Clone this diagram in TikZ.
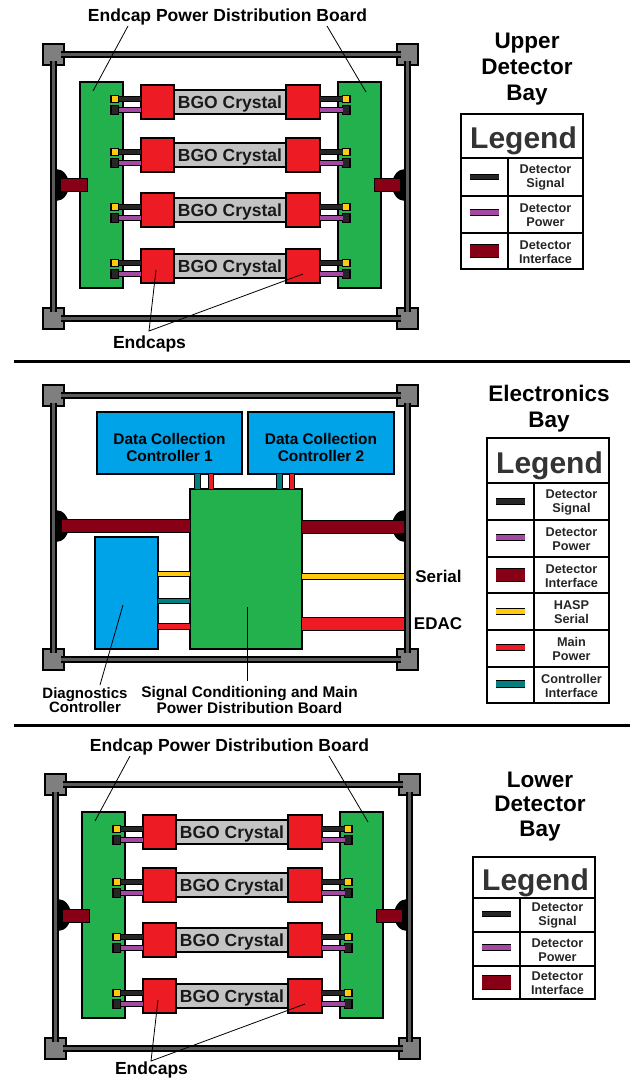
\documentclass[tikz,border=0pt]{standalone}
\usepackage{fontspec}
\setmainfont{Liberation Sans}
\usetikzlibrary{fit}
\definecolor{cgreen}{HTML}{22B14C}
\definecolor{cred}{HTML}{ED1C24}
\definecolor{cblue}{HTML}{00A2E8}
\definecolor{cyel}{HTML}{FFC90E}
\definecolor{cpur}{HTML}{A349A4}
\definecolor{cdark}{HTML}{880015}
\definecolor{cteal}{HTML}{008080}
\definecolor{csig}{HTML}{262626}
\definecolor{cbgo}{HTML}{C3C3C3}
\definecolor{cpost}{HTML}{7F7F7F}
\definecolor{cbar}{HTML}{5A5A5A}
\definecolor{cleg}{HTML}{333333}
\tikzset{
  blk/.style={draw=black,line width=1.3pt,inner sep=0pt,outer sep=0pt},
  board/.style={blk,fill=cgreen},
  endcap/.style={blk,fill=cred},
  crystal/.style={blk,fill=cbgo},
  ctrl/.style={blk,fill=cblue},
  iface/.style={blk,line width=1pt,fill=cdark},
  post/.style={blk,line width=1.5pt,fill=cpost},
  pinY/.style={blk,fill=cyel},
  pinK/.style={blk,fill=csig},
  cell/.style={draw=black,line width=1.1pt,inner sep=0pt,outer sep=0pt,fill=white},
  wire/.style={line width=1pt,double distance=#1,line cap=butt},
  sigw/.style={wire=4.5pt,double=csig},
  powr/.style={wire=3.8pt,double=cpur},
  bar/.style={line width=2pt,double=cbar,double distance=2.8pt},
  leader/.style={draw=black,line width=0.8pt},
  bigt/.style={font=\bfseries\fontsize{22.5}{26}\selectfont,align=center,inner sep=0pt},
  lab/.style={font=\bfseries\fontsize{17.5}{19}\selectfont,align=center,inner sep=0pt},
  dcc/.style={font=\bfseries\fontsize{15.4}{16.5}\selectfont,align=center,inner sep=0pt},
  legt/.style={font=\bfseries\fontsize{30}{32}\selectfont,text=cleg,inner sep=0pt,xshift=1.5pt,yshift=-5pt},
  legl/.style={font=\bfseries\fontsize{12.7}{14}\selectfont,text=black!85,align=center,inner sep=0pt,yshift=-0.7pt},
}
\def\dx{0}\def\dy{0}
\newcommand{\rbox}[6]{\node[#2,fit={({#3+\dx},{#4+\dy}) ({#5+\dx},{#6+\dy})}] (#1) {};}
\newcommand{\bumps}[1]{%
  \fill[black] ({56+\dx},{#1+\dy-16}) arc[start angle=90,end angle=-90,x radius=13pt,y radius=16pt] -- cycle;
  \fill[black] ({405+\dx},{#1+\dy-16}) arc[start angle=90,end angle=270,x radius=13pt,y radius=16pt] -- cycle;
}
\newcommand{\bayposts}[1]{%
  \rbox{#1tl}{post}{43}{44}{64}{65}
  \rbox{#1tr}{post}{397}{44}{418}{65}
  \rbox{#1bl}{post}{43}{308}{64}{329}
  \rbox{#1br}{post}{397}{308}{418}{329}
}
\newcommand{\framebars}[1]{%
  \draw[bar,shorten <=7pt,shorten >=7pt] (#1tl.center) -- (#1tr.center);
  \draw[bar,shorten <=7pt,shorten >=7pt] (#1bl.center) -- (#1br.center);
  \draw[bar,shorten <=7pt,shorten >=7pt] (#1tl.center) -- (#1bl.center);
  \draw[bar,shorten <=7pt,shorten >=7pt] (#1tr.center) -- (#1br.center);
}
\newcommand{\detbay}[3]{%
  \bumps{185}
  \bayposts{#1}
  \framebars{#1}
  \rbox{#1bdl}{board}{80}{82}{123}{288}
  \rbox{#1bdr}{board}{338}{82}{381}{288}
  \rbox{#1ifl}{iface}{60}{179}{87}{192}
  \rbox{#1ifr}{iface}{374}{179}{400}{192}
  \foreach \t [count=\i] in {85,138,193,249}{
    \rbox{#1xt\i}{crystal}{173}{\t+5}{287}{\t+29}
    \node[font=\bfseries\fontsize{17.5}{19}\selectfont,inner sep=0pt,text=black!90,yshift=-2pt] (#1xl\i) at (#1xt\i.center) {BGO Crystal};
    \rbox{#1yl\i}{pinY}{111}{\t+10.5}{118.5}{\t+17.5}
    \rbox{#1kl\i}{pinK}{111}{\t+20.5}{118.5}{\t+29.5}
    \rbox{#1yr\i}{pinY}{342.5}{\t+10.5}{350}{\t+17.5}
    \rbox{#1kr\i}{pinK}{342.5}{\t+20.5}{350}{\t+29.5}
    \rbox{#1el\i}{endcap}{141}{\t}{174}{\t+34}
    \rbox{#1er\i}{endcap}{286}{\t}{320}{\t+34}
    \draw[sigw] (#1yl\i.east) -- (#1yl\i.east -| #1el\i.west);
    \draw[powr] (#1kl\i.east) -- (#1kl\i.east -| #1el\i.west);
    \draw[sigw] (#1er\i.east |- #1yr\i.west) -- (#1yr\i.west);
    \draw[powr] (#1er\i.east |- #1kr\i.west) -- (#1kr\i.west);
  }
  \node[lab] (#1title) at ({227.5+\dx},{#2+\dy}) {Endcap Power Distribution Board};
  \node[lab] (#1caps) at ({149.5+\dx},{#3+\dy}) {Endcaps};
  \coordinate (#1la) at ({128+\dx},{26+\dy});
  \coordinate (#1lb) at ({327+\dx},{26+\dy});
  \coordinate (#1lc) at ({93+\dx},{91+\dy});
  \coordinate (#1ld) at ({366+\dx},{92+\dy});
  \coordinate (#1ap) at ({149+\dx},{331+\dy});
  \coordinate (#1pa) at ({156+\dx},{270+\dy});
  \coordinate (#1pb) at ({303+\dx},{274+\dy});
  \draw[leader] (#1la) -- (#1lc);
  \draw[leader] (#1lb) -- (#1ld);
  \draw[leader] (#1pa) -- (#1ap) -- (#1pb);
}
\newcommand{\legendbox}[7]{%
  \rbox{#1box}{cell}{#2}{#5}{#4}{#6}
  \node[legt] (#1name) at (#1box.center) {Legend};
  \foreach \ya/\yb/\ys/\col/\thk/\txt [count=\i] in {#7}{
    \rbox{#1a\i}{cell}{#2}{\ya}{#3}{\yb}
    \rbox{#1b\i}{cell}{#3}{\ya}{#4}{\yb}
    \draw[line width=1pt,double=\col,double distance=\thk pt] (#1a\i.center) ++(-14.5,\ys) -- ++(29,0);
    \node[legl] (#1t\i) at (#1b\i.center) {\txt};
  }
}
\begin{document}
\begin{tikzpicture}[x=1pt,y=-1pt]
\useasboundingbox (0,0) rectangle (630,1078);
\coordinate (s1a) at (14,361); \coordinate (s1b) at (630,361);
\coordinate (s2a) at (14,725); \coordinate (s2b) at (630,725);
\draw[line width=3pt] (s1a) -- (s1b);
\draw[line width=3pt] (s2a) -- (s2b);
\def\dx{0}\def\dy{0}
\detbay{u}{17}{344}
\def\dx{2}\def\dy{730}
\detbay{l}{17}{339.5}
\def\dx{0}\def\dy{0}
\node[bigt] (tu) at (527,69.5) {Upper\\Detector\\Bay};
\node[bigt] (tm) at (549,409) {Electronics\\Bay};
\node[bigt,font=\bfseries\fontsize{22.5}{24.5}\selectfont] (tl) at (540,806.5) {Lower\\Detector\\Bay};
\legendbox{lu}{461}{508}{583}{114}{158}{%
  158/196/0/csig/4.5/{Detector\\Signal},
  196/233/-2/cpur/4.5/{Detector\\Power},
  233/269/0/cdark/12.5/{Detector\\Interface}}
\legendbox{ll}{473}{520}{595}{857}{898}{%
  898/932/-1/csig/4.5/{Detector\\Signal},
  932/966/-1.5/cpur/4.5/{Detector\\Power},
  966/999/0/cdark/12.5/{Detector\\Interface}}
\legendbox{lm}{487}{534}{609}{438}{483}{%
  483/520/0/csig/4.5/{Detector\\Signal},
  520/557/-1/cpur/4.5/{Detector\\Power},
  557/593/0/cdark/12.5/{Detector\\Interface},
  593/630/0/cyel/5.5/{HASP\\Serial},
  630/667/-1/cred/5.5/{Main\\Power},
  667/703/-1/cteal/5.5/{Controller\\Interface}}
\def\dy{341}
\bumps{185}
\bayposts{m}
\def\dy{0}
\rbox{msc}{board}{190}{489}{302}{649}
\rbox{mdc}{ctrl}{95}{537}{158}{649}
\rbox{mda}{ctrl}{97}{412}{242}{474}
\rbox{mdb}{ctrl}{248}{412}{394}{474}
\draw[line width=1pt,double=cdark,double distance=11.5pt] (msc.west |- 0,526) -- (62,526);
\draw[line width=1pt,double=cdark,double distance=11.5pt] (msc.east |- 0,527) -- (mtr.center |- 0,527);
\draw[line width=1pt,double=cyel,double distance=5pt] (msc.east |- 0,576.5) -- (mtr.center |- 0,576.5);
\draw[line width=1pt,double=cred,double distance=12pt] (msc.east |- 0,624) -- (mtr.center |- 0,624);
\draw[line width=1pt,double=cyel,double distance=4.5pt] (mdc.east |- 0,574) -- (msc.west |- 0,574);
\draw[line width=1pt,double=cteal,double distance=4.5pt] (mdc.east |- 0,601) -- (msc.west |- 0,601);
\draw[line width=1pt,double=cred,double distance=4.5pt] (mdc.east |- 0,626.5) -- (msc.west |- 0,626.5);
\draw[line width=1pt,double=cteal,double distance=4.5pt] (197.5,0 |- mda.south) -- (197.5,0 |- msc.north);
\draw[line width=1pt,double=cred,double distance=4.5pt] (211,0 |- mda.south) -- (211,0 |- msc.north);
\draw[line width=1pt,double=cteal,double distance=4.5pt] (279.5,0 |- mdb.south) -- (279.5,0 |- msc.north);
\draw[line width=1pt,double=cred,double distance=4.5pt] (292,0 |- mdb.south) -- (292,0 |- msc.north);
\def\dy{341}
\framebars{m}
\def\dy{0}
\node[dcc,yshift=-4.5pt] (mdat) at (mda.center) {Data Collection\\Controller 1};
\node[dcc,yshift=-4.5pt] (mdbt) at (mdb.center) {Data Collection\\Controller 2};
\node[dcc,font=\bfseries\fontsize{15}{14.5}\selectfont] (mdcl) at (85,700) {Diagnostics\\Controller};
\node[dcc] (mscl) at (249.5,700) {Signal Conditioning and Main\\Power Distribution Board};
\node[lab,font=\bfseries\fontsize{17}{19}\selectfont] (mser) at (438.5,576) {Serial};
\node[lab,font=\bfseries\fontsize{17}{19}\selectfont] (medac) at (438,624) {EDAC};
\coordinate (ma) at (123,605); \coordinate (mb) at (100,685);
\coordinate (mc) at (247.7,607); \coordinate (md) at (247.7,681);
\draw[leader] (ma) -- (mb);
\draw[leader] (mc) -- (md);
\end{tikzpicture}
\end{document}
